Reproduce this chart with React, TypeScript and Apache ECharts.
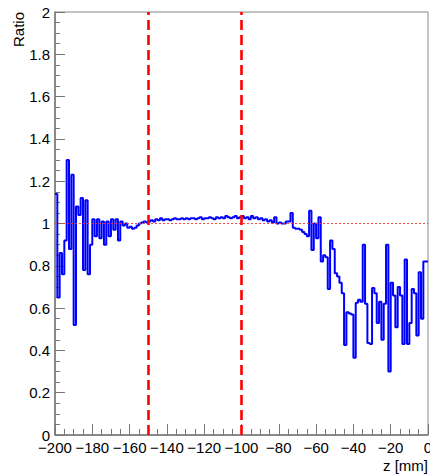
import React, { useEffect, useRef } from "react";
import * as echarts from "echarts";

// Histogram binning: 160 bins of 1.25 mm from -200 mm to 0 mm
const BIN_LOW = -200;
const BIN_WIDTH = 1.25;

// Ratio per bin, z from -200 to -150 mm (bins 0-39)
const ratioUpstream = [
  1.14, 0.65, 0.86, 0.76, 0.92, 1.3, 0.88, 1.23, 0.52, 1.08,
  1.04, 1.12, 0.78, 1.11, 0.76, 0.9, 1.02, 0.94, 1.02, 0.93,
  1.01, 0.9, 1.01, 0.94, 1.02, 0.97, 1.02, 0.92, 1.01, 0.99,
  1.0, 0.98, 0.985, 0.975, 0.98, 0.99, 1.0, 1.005, 1.01, 1.005,
];
// Ratio per bin, z from -150 to -78.75 mm (bins 40-96)
const ratioCentral = [
  1.01, 1.015, 1.01, 1.02, 1.015, 1.025, 1.015, 1.02, 1.02, 1.015,
  1.02, 1.025, 1.02, 1.02, 1.025, 1.02, 1.025, 1.02, 1.025, 1.025,
  1.02, 1.025, 1.03, 1.02, 1.025, 1.025, 1.03, 1.025, 1.02, 1.03,
  1.025, 1.03, 1.025, 1.035, 1.03, 1.025, 1.03, 1.035, 1.025, 1.03,
  1.035, 1.025, 1.03, 1.02, 1.035, 1.025, 1.03, 1.02, 1.025, 1.015,
  1.02, 1.01, 1.015, 1.005, 1.03, 1.0, 1.005,
];
// Ratio per bin, z from -78.75 to 0 mm (bins 97-159)
const ratioDownstream = [
  1.0, 1.0, 1.01, 1.01, 1.05, 0.98, 0.975, 0.975, 0.97, 0.96,
  0.95, 0.94, 1.06, 0.875, 1.0, 0.93, 1.03, 0.82, 0.85, 0.84,
  0.69, 0.92, 0.88, 0.765, 0.75, 0.72, 0.67, 0.425, 0.58, 0.575,
  0.57, 0.365, 0.625, 0.64, 0.63, 0.9, 0.62, 0.435, 0.43, 0.695,
  0.67, 0.53, 0.63, 0.45, 0.62, 0.9, 0.3, 0.72, 0.66, 0.51,
  0.7, 0.66, 0.43, 0.83, 0.43, 0.53, 0.69, 0.67, 0.47, 0.77,
  0.55, 0.82, 0.82,
];

// Reference lines
const cutLines = [-150, -100];
const unityLevel = 1;

const X_MIN = -200;
const X_MAX = 0;
const Y_MIN = 0;
const Y_MAX = 2;

const FONT = "'Liberation Sans', Arial, Helvetica, sans-serif";

function fmtMinus(v: number): string {
  if (v < 0) return "\u2212" + String(Math.abs(Math.round(v * 100) / 100));
  return String(Math.round(v * 100) / 100);
}

export default function App() {
  const ref = useRef<HTMLDivElement>(null);

  useEffect(() => {
    if (!ref.current) return;
    const chart = echarts.init(ref.current, null, { renderer: "svg" });

    const ratios = [...ratioUpstream, ...ratioCentral, ...ratioDownstream];
    const histData: [number, number][] = ratios.map((v, i) => [
      BIN_LOW + i * BIN_WIDTH,
      v,
    ]);
    histData.push([BIN_LOW + ratios.length * BIN_WIDTH, ratios[ratios.length - 1]]);

    const axisLineStyle = { color: "#777", width: 1.5 };

    chart.setOption({
      animation: false,
      backgroundColor: "#fff",
      grid: {
        left: 55,
        top: 12,
        width: 373,
        height: 423,
        show: true,
        borderColor: "#888",
        borderWidth: 1,
        backgroundColor: "transparent",
        containLabel: false,
        outerBoundsMode: "none",
      },
      xAxis: {
        type: "value",
        min: X_MIN,
        max: X_MAX,
        interval: 20,
        axisLine: { show: true, lineStyle: axisLineStyle, onZero: false },
        axisTick: { show: true, inside: true, length: 11, lineStyle: { color: "#777", width: 1 } },
        minorTick: { show: true, splitNumber: 4, length: 6, lineStyle: { color: "#777", width: 1 } },
        splitLine: { show: false },
        axisLabel: {
          color: "#000",
          fontSize: 15,
          fontFamily: FONT,
          margin: 5,
          formatter: (v: number) => fmtMinus(v),
          showMinLabel: true,
          showMaxLabel: true,
          hideOverlap: false,
        },
      },
      yAxis: {
        type: "value",
        min: Y_MIN,
        max: Y_MAX,
        interval: 0.2,
        axisLine: { show: true, lineStyle: axisLineStyle, onZero: false },
        axisTick: { show: true, inside: true, length: 10, lineStyle: { color: "#777", width: 1 } },
        minorTick: { show: true, splitNumber: 4, length: 5, lineStyle: { color: "#777", width: 1 } },
        splitLine: { show: false },
        axisLabel: {
          color: "#000",
          fontSize: 15,
          fontFamily: FONT,
          margin: 5,
          formatter: (v: number) => fmtMinus(v),
        },
      },
      graphic: [
        {
          type: "text",
          x: 18,
          y: 12,
          rotation: Math.PI / 2,
          style: {
            text: "Ratio",
            fontSize: 15,
            fontFamily: FONT,
            fill: "#000",
            textAlign: "right",
            textVerticalAlign: "middle",
          },
        },
        {
          type: "text",
          x: 428,
          y: 465,
          style: {
            text: "z [mm]",
            fontSize: 15,
            fontFamily: FONT,
            fill: "#000",
            textAlign: "right",
            textVerticalAlign: "middle",
          },
        },
      ],
      series: [
        {
          type: "line",
          step: "end",
          data: histData,
          showSymbol: false,
          symbol: "none",
          clip: true,
          lineStyle: { color: "#0000ff", width: 2 },
          z: 3,
          markLine: {
            silent: true,
            symbol: "none",
            label: { show: false },
            animation: false,
            data: [
              {
                yAxis: unityLevel,
                lineStyle: { color: "#ff2a2a", width: 1, type: [2, 2], opacity: 0.85 },
              },
            ],
          },
        },
        {
          type: "line",
          data: [],
          z: 4,
          markLine: {
            silent: true,
            symbol: "none",
            label: { show: false },
            animation: false,
            data: cutLines.map((x) => ({
              xAxis: x,
              lineStyle: { color: "#ff0000", width: 2.6, type: [10, 5] },
            })),
          },
        },
      ],
    });

    return () => chart.dispose();
  }, []);

  return (
    <div
      ref={ref}
      style={{ position: "fixed", left: 0, top: 0, width: 430, height: 474 }}
    />
  );
}
